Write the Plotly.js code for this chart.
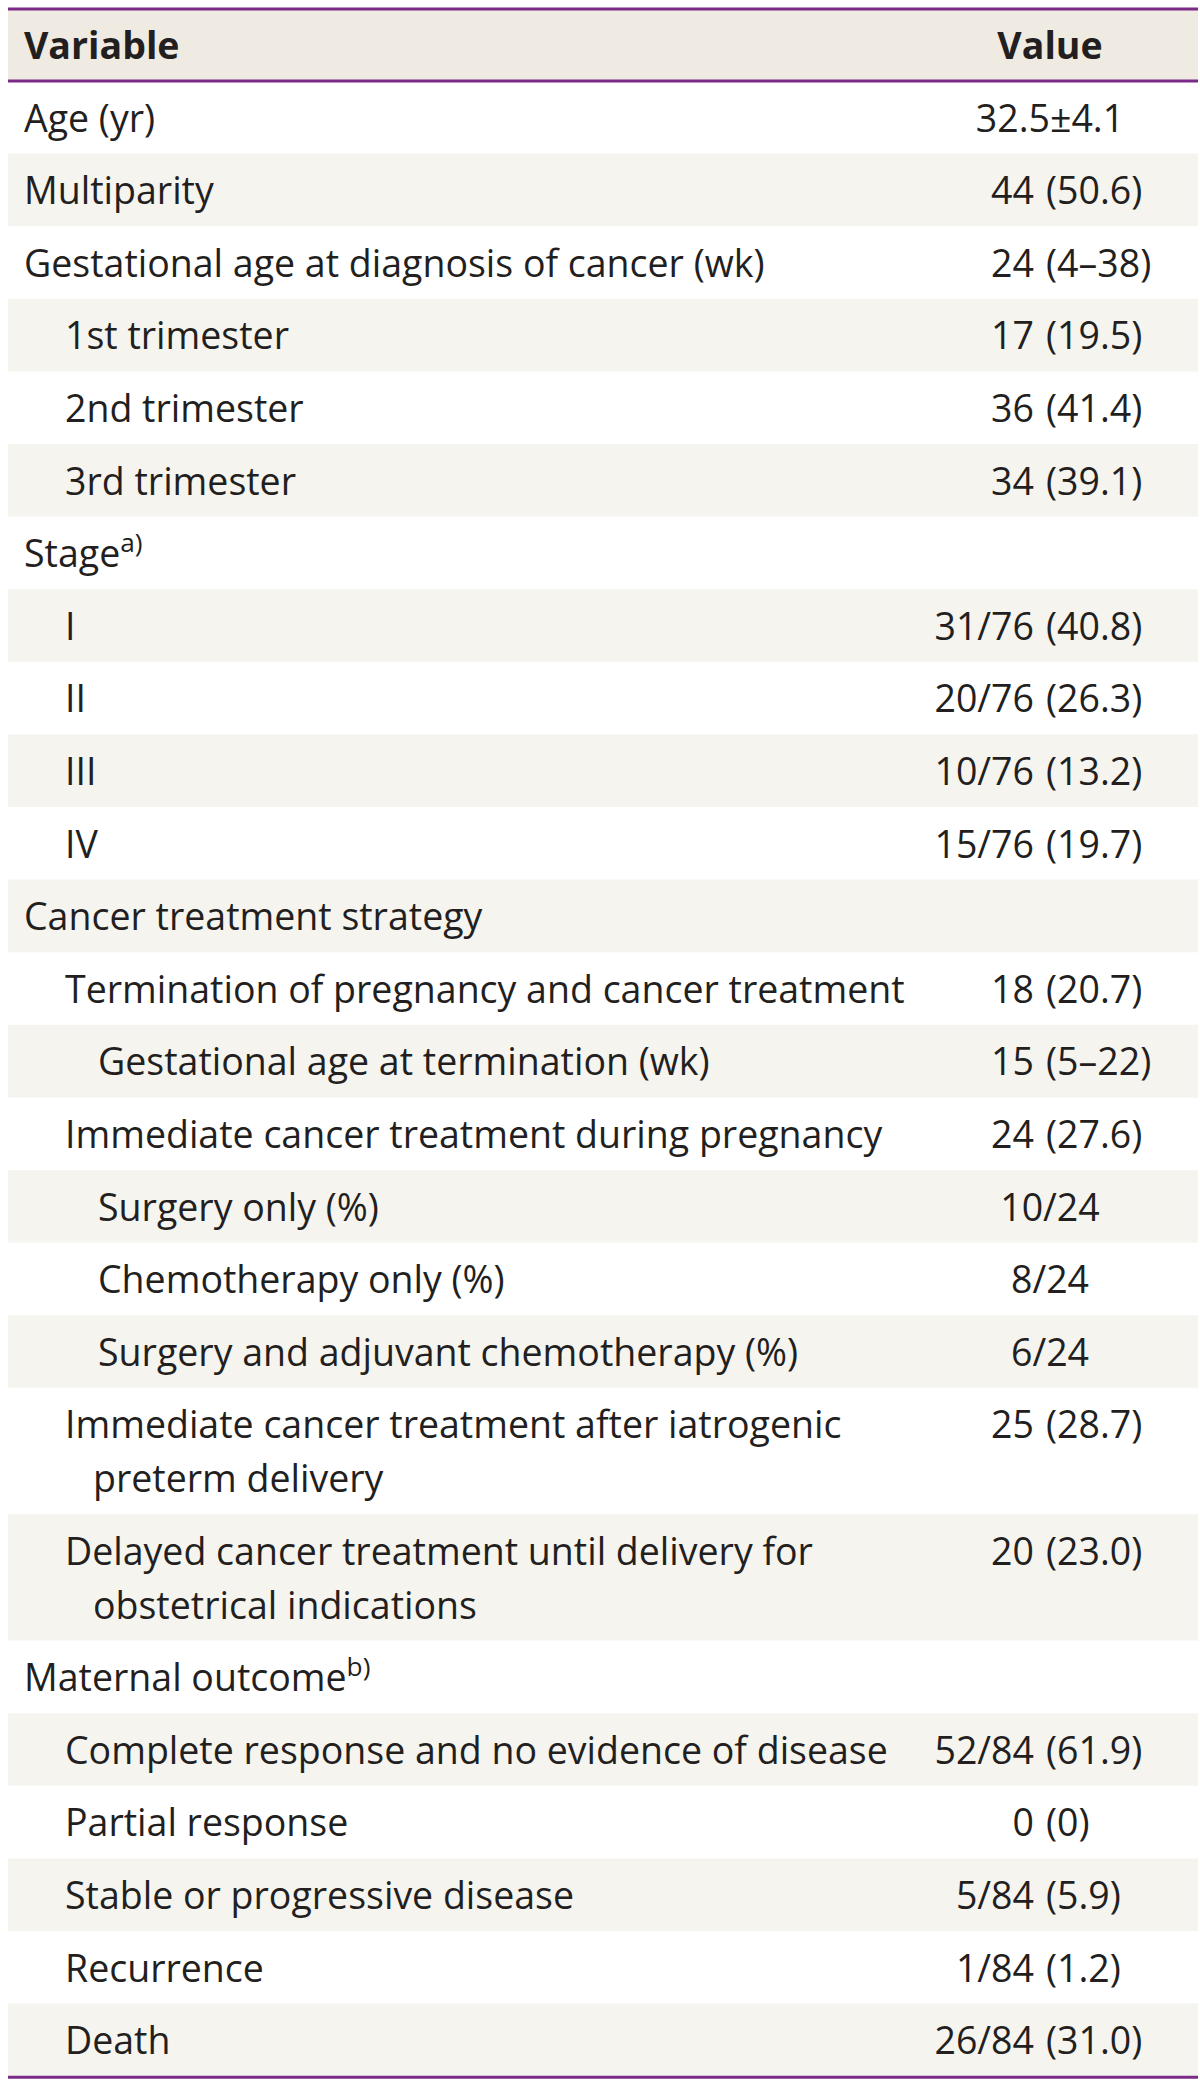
<!DOCTYPE html>
<html><head><meta charset="utf-8">
<script src="https://cdn.plot.ly/plotly-3.0.1.min.js"></script>
<style>html,body{margin:0;padding:0;background:#fff}#chart{width:1200px;height:2087px}</style>
</head><body><div id="chart"></div>
<script>
// ---- data ----
const headerLabels = ["Variable", "Value"];
const variableLabels = [
  "Age (yr)",
  "Multiparity",
  "Gestational age at diagnosis of cancer (wk)",
  "1st trimester",
  "2nd trimester",
  "3rd trimester",
  "Stage<sup>a)</sup>",
  "I",
  "II",
  "III",
  "IV",
  "Cancer treatment strategy",
  "Termination of pregnancy and cancer treatment",
  "Gestational age at termination (wk)",
  "Immediate cancer treatment during pregnancy",
  "Surgery only (%)",
  "Chemotherapy only (%)",
  "Surgery and adjuvant chemotherapy (%)",
  "Immediate cancer treatment after iatrogenic\npreterm delivery",
  "Delayed cancer treatment until delivery for\nobstetrical indications",
  "Maternal outcome<sup>b)</sup>",
  "Complete response and no evidence of disease",
  "Partial response",
  "Stable or progressive disease",
  "Recurrence",
  "Death"
];
const indentLevels = [0,0,0,1,1,1,0,1,1,1,1,0,1,2,1,2,2,2,1,1,0,1,1,1,1,1];
const valueLabels = [
  "32.5±4.1", "44 (50.6)", "24 (4–38)", "17 (19.5)", "36 (41.4)", "34 (39.1)",
  "", "31/76 (40.8)", "20/76 (26.3)", "10/76 (13.2)", "15/76 (19.7)",
  "", "18 (20.7)", "15 (5–22)", "24 (27.6)", "10/24", "8/24", "6/24",
  "25 (28.7)", "20 (23.0)",
  "", "52/84 (61.9)", "0 (0)", "5/84 (5.9)", "1/84 (1.2)", "26/84 (31.0)"
];

// ---- layout constants ----
const W = 1200, H = 2087;
const tableX0 = 8, tableX1 = 1198;
const topLine = 9, headLine = 81;
const rowH = 72.6, extraLineH = 53.8;
const textDY = 5;
const indentX = [24, 65, 98];
const contIndent = 28;
const valueCenterX = 1050, valueSplitLeft = 1034, valueSplitRight = 1046;
const purple = "#7b2a87", headerFill = "#efebe3", stripeFill = "#f5f4ef", textColor = "#231f20";
const FONT = "Open Sans, Noto Sans, sans-serif";
const FS = 37.5;

const shapes = [];
// header band
shapes.push({type:"rect", xref:"x", yref:"y", x0:tableX0, x1:tableX1, y0:topLine, y1:headLine, fillcolor:headerFill, line:{width:0}, layer:"below"});

const lblX=[], lblY=[], lblT=[];
const valCX=[], valCY=[], valCT=[];
const valLX=[], valLY=[], valLT=[];
const valRX=[], valRY=[], valRT=[];

let y = headLine;
variableLabels.forEach((lab, i) => {
  const lines = lab.split("\n");
  const h = rowH + extraLineH * (lines.length - 1);
  if (i % 2 === 1) {
    shapes.push({type:"rect", xref:"x", yref:"y", x0:tableX0, x1:tableX1, y0:y, y1:y+h, fillcolor:stripeFill, line:{width:0}, layer:"below"});
  }
  const firstY = y + rowH / 2 + textDY;
  lines.forEach((ln, k) => {
    lblX.push(indentX[indentLevels[i]] + (k > 0 ? contIndent : 0));
    lblY.push(firstY + k * extraLineH);
    lblT.push(ln);
  });
  const v = valueLabels[i];
  if (v) {
    const p = v.indexOf(" (");
    if (p >= 0) {
      valLX.push(valueSplitLeft); valLY.push(firstY); valLT.push(v.slice(0, p));
      valRX.push(valueSplitRight); valRY.push(firstY); valRT.push(v.slice(p + 1));
    } else {
      valCX.push(valueCenterX); valCY.push(firstY); valCT.push(v);
    }
  }
  y += h;
});
const bottomLine = y + 1;

// purple rules
[topLine, headLine, bottomLine].forEach(ly => {
  shapes.push({type:"line", xref:"x", yref:"y", x0:tableX0, x1:tableX1, y0:ly, y1:ly, line:{color:purple, width:3}, layer:"above"});
});

const tf = {family: FONT, size: FS, color: textColor};
const headY = (topLine + headLine) / 2 + textDY;
const traces = [
  {type:"scatter", mode:"text", x:[indentX[0]], y:[headY], text:["<b>"+headerLabels[0]+"</b>"], textposition:"middle right", textfont:{family:FONT, size:FS, color:textColor, weight:700}, hoverinfo:"skip"},
  {type:"scatter", mode:"text", x:[valueCenterX], y:[headY], text:["<b>"+headerLabels[1]+"</b>"], textposition:"middle center", textfont:{family:FONT, size:FS, color:textColor, weight:700}, hoverinfo:"skip"},
  {type:"scatter", mode:"text", x:lblX, y:lblY, text:lblT, textposition:"middle right", textfont:tf, hoverinfo:"skip"},
  {type:"scatter", mode:"text", x:valCX, y:valCY, text:valCT, textposition:"middle center", textfont:tf, hoverinfo:"skip"},
  {type:"scatter", mode:"text", x:valLX, y:valLY, text:valLT, textposition:"middle left", textfont:tf, hoverinfo:"skip"},
  {type:"scatter", mode:"text", x:valRX, y:valRY, text:valRT, textposition:"middle right", textfont:tf, hoverinfo:"skip"}
];

const layout = {
  width: W, height: H,
  margin: {l:0, r:0, t:0, b:0, pad:0},
  paper_bgcolor: "#ffffff", plot_bgcolor: "#ffffff",
  showlegend: false,
  xaxis: {range:[0, W], visible:false, fixedrange:true},
  yaxis: {range:[H, 0], visible:false, fixedrange:true},
  shapes: shapes
};
Plotly.newPlot("chart", traces, layout, {staticPlot:true, displayModeBar:false});
</script>
</body></html>
